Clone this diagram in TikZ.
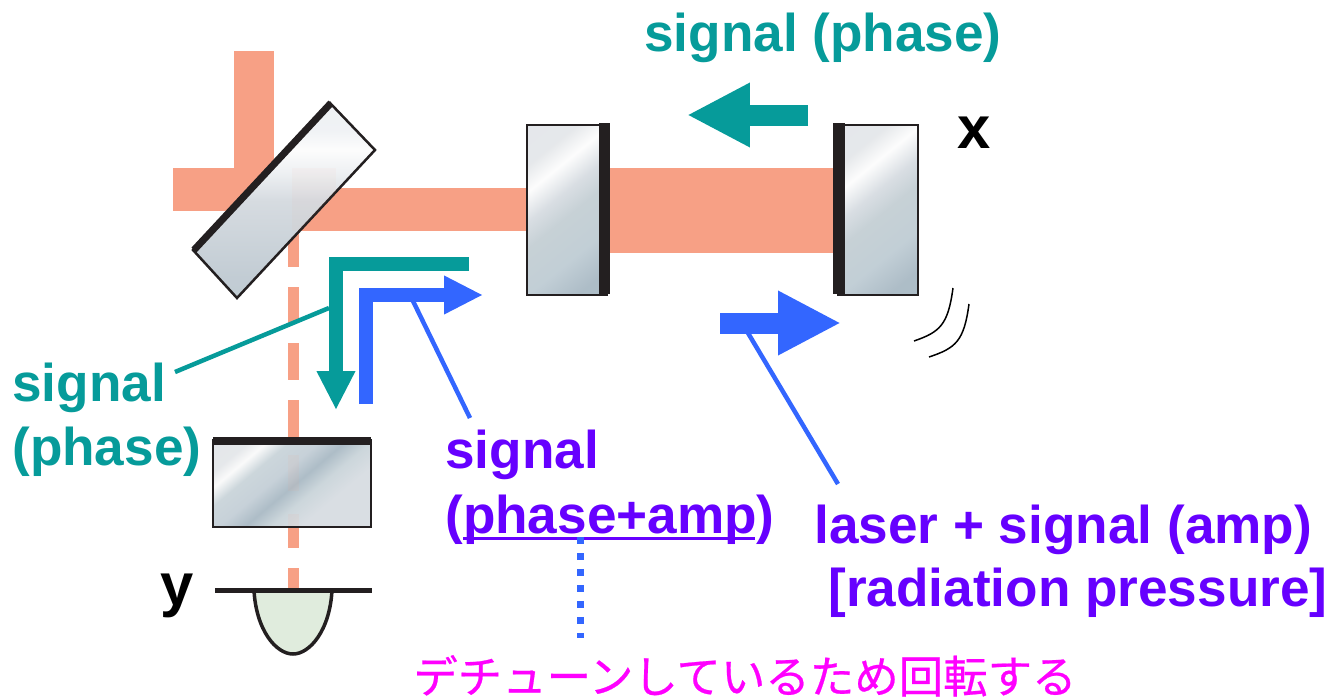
\documentclass[tikz,border=0pt]{standalone}
\usepackage{fontspec}
\setmainfont{Liberation Sans}
\newfontfamily\cjkfont{Noto Sans CJK JP}[FakeBold=0.5]
\usetikzlibrary{arrows.meta}
\definecolor{beam}{HTML}{F7A085}
\definecolor{tealsig}{HTML}{069B9A}
\definecolor{bluesig}{HTML}{3366FF}
\definecolor{violet}{HTML}{6600FF}
\definecolor{pinktext}{HTML}{FF00FF}
\definecolor{coat}{HTML}{231F20}
\definecolor{diode}{HTML}{E0ECDD}
\pgfdeclarehorizontalshading{glass}{100bp}{
  rgb(0bp)=(0.89,0.90,0.92); rgb(27bp)=(0.90,0.91,0.92); rgb(35bp)=(0.99,0.99,0.99);
  rgb(44bp)=(0.85,0.87,0.89); rgb(52bp)=(0.78,0.82,0.84);
  rgb(66bp)=(0.76,0.81,0.84); rgb(78bp)=(0.68,0.74,0.78); rgb(100bp)=(0.68,0.74,0.78)}
\pgfdeclarehorizontalshading{glassflat}{100bp}{
  rgb(0bp)=(0.88,0.89,0.91); rgb(25bp)=(0.90,0.91,0.92); rgb(30bp)=(0.98,0.98,0.98);
  rgb(36bp)=(0.80,0.84,0.86); rgb(44bp)=(0.78,0.82,0.85); rgb(51bp)=(0.68,0.74,0.78);
  rgb(58bp)=(0.80,0.84,0.86); rgb(66bp)=(0.85,0.87,0.89); rgb(100bp)=(0.85,0.87,0.89)}
\pgfdeclarehorizontalshading{glasstilt}{100bp}{
  rgb(0bp)=(0.74,0.79,0.82); rgb(30bp)=(0.76,0.80,0.83); rgb(50bp)=(0.84,0.86,0.88);
  rgb(57bp)=(0.93,0.94,0.95); rgb(63bp)=(0.99,0.99,0.99); rgb(68bp)=(0.94,0.95,0.96);
  rgb(100bp)=(0.92,0.93,0.94)}
\tikzset{
  lbl/.style={inner sep=0pt, anchor=base west, font=\fontsize{30.25}{36}\selectfont\bfseries},
  mirror/.style={draw=coat, line width=0.05cm, shading=glass, shading angle=-51},
  coating/.style={fill=coat, draw=none},
  beamline/.style={fill=beam, draw=none},
  fatarrow/.style={line width=0.42cm, -{Triangle[length=1.26cm,width=1.2cm]}},
  cornerarrow/.style={line width=0.27cm, miter limit=10, -{Triangle[length=0.78cm,width=0.72cm]}},
  leader/.style={line width=0.09cm}
}
\begin{document}
\begin{tikzpicture}[x=0.02cm, y=-0.02cm]
  \useasboundingbox (0,0) rectangle (1330,700);
  % Beams
  \fill[beamline] (234,51) rectangle (274,190);
  \fill[beamline] (173,168) rectangle (274,211);
  \fill[beamline] (290,188) rectangle (527,231);
  \fill[beamline] (610,168) rectangle (833,253);
  % Beam towards the detector
  \fill[beamline] (288,231) rectangle (299,267);
  \fill[beamline] (288,287) rectangle (299,323);
  \fill[beamline] (288,343) rectangle (299,380);
  \fill[beamline] (288,400) rectangle (299,437);
  \fill[beamline] (288,527) rectangle (299,548);
  \fill[beamline] (288,568) rectangle (299,590);
  % Beam splitter
  \draw[mirror, shading=glasstilt, shading angle=90] (330,103) -- (375,150) -- (237,298) -- (193,250) -- cycle;
  \draw[coat, line width=0.14cm] (194,250) -- (331,103);
  \begin{scope}
    \clip (330,103) -- (375,150) -- (237,298) -- (193,250) -- cycle;
    \fill[beamline, opacity=0.05] (292,168) rectangle (336,231);
  \end{scope}
  % Cavity mirrors
  \draw[mirror] (527,125) rectangle (607,295);
  \fill[coating] (599,123) rectangle (610,294);
  \draw[mirror] (838,125) rectangle (918,295);
  \fill[coating] (833,123) rectangle (845,294);
  % Lower mirror
  \draw[mirror, shading=glassflat, shading angle=-50] (213,440) rectangle (371,527);
  \fill[coating] (213,437) rectangle (371,445);
  \fill[beamline, opacity=0.08] (288,455) rectangle (299,491);
  \fill[beamline, opacity=0.08] (288,514) rectangle (299,526);
  % Detector
  \draw[coat, line width=0.07cm, fill=diode] (254,590) .. controls (256,630) and (276,654) .. (293,654) .. controls (310,654) and (330,630) .. (332,590);
  \draw[coat, line width=0.1cm] (215,590) -- (372,590);
  % Signal arrows
  \draw[tealsig, fatarrow] (808,115) -- (687,115);
  \draw[bluesig, fatarrow] (720,323) -- (841,323);
  \draw[tealsig, cornerarrow] (469,264) -- (336,264) -- (336,410);
  \draw[bluesig, cornerarrow] (366,404) -- (366,295) -- (483,295);
  % Motion marks
  \draw[black, line width=0.03cm] (953,288) .. controls (948,325) and (940,332) .. (914,341);
  \draw[black, line width=0.03cm] (969,304) .. controls (964,341) and (956,348) .. (929,357);
  % Labels
  \node[lbl, tealsig] (topsignal) at (644,51) {signal (phase)};
  \node[lbl, tealsig] (leftsignal) at (12,401) {signal};
  \node[lbl, tealsig] (leftphase) at (12,465) {(phase)};
  \node[lbl, violet] (midsignal) at (445,468) {signal};
  \node[lbl, violet] (midphase) at (445,533) {(phase+amp)};
  \node[lbl, violet] (laserlabel) at (814,543) {laser + signal (amp)};
  \node[lbl, violet] (pressurelabel) at (828,606) {[radiation pressure]};
  \node[lbl, black, font=\fontsize{34}{40}\selectfont\bfseries] (xlabel) at (957,148) {x};
  \node[lbl, black, font=\fontsize{34}{40}\selectfont\bfseries] (ylabel) at (160,605) {y};
  \node[inner sep=0pt, anchor=base west, text=pinktext, font=\fontsize{25.3}{30}\selectfont\cjkfont] (detune) at (413,693) {デチューンしているため回転する};
  % Leaders
  \coordinate (tealstart) at (329,308);
  \coordinate (tealend) at (175,372);
  \coordinate (midstart) at (413,301);
  \coordinate (midend) at (470,418);
  \coordinate (laserstart) at (748,333);
  \coordinate (laserend) at (838,484);
  \coordinate (ulstart) at (463,538);
  \coordinate (ulend) at (755,538);
  \coordinate (dotstart) at (580,537);
  \coordinate (dotend) at (580,638);
  \draw[tealsig, leader] (tealstart) -- (tealend);
  \draw[bluesig, leader] (midstart) -- (midend);
  \draw[bluesig, leader] (laserstart) -- (laserend);
  \draw[violet, line width=0.06cm] (ulstart) -- (ulend);
  \draw[bluesig, line width=0.14cm, dash pattern=on 0.14cm off 0.18cm] (dotstart) -- (dotend);
\end{tikzpicture}
\end{document}
